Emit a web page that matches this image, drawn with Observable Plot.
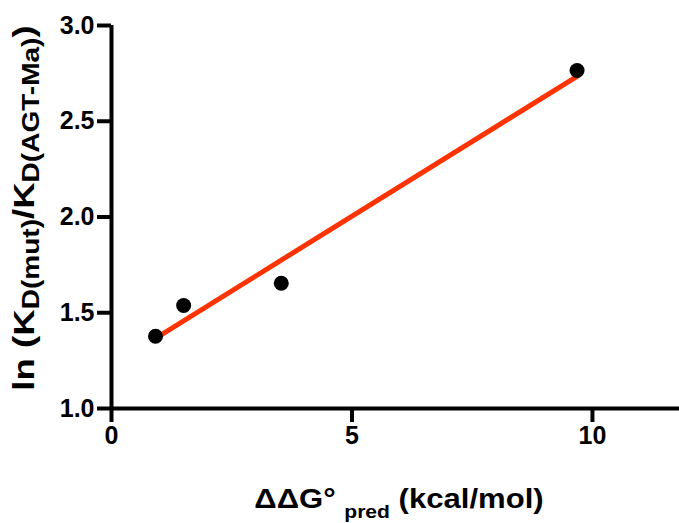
<!DOCTYPE html>
<html>
<head>
<meta charset="utf-8">
<script src="https://cdn.jsdelivr.net/npm/d3@7"></script>
<script src="https://cdn.jsdelivr.net/npm/@observablehq/plot@0.6"></script>
<style>
  html, body { margin: 0; padding: 0; background: white; }
</style>
</head>
<body>
<div id="chart"></div>
<script>
// Data
const dgPred = [0.915, 1.50, 3.53, 9.68];          // ΔΔG° pred (kcal/mol)
const lnRatio = [1.377, 1.538, 1.654, 2.765];      // ln(KD(mut)/KD(AGT-Ma))
const xTicks = [0, 5, 10];
const yTicks = [1.0, 1.5, 2.0, 2.5, 3.0];

const data = dgPred.map((x, i) => ({x, y: lnRatio[i]}));

const W = 679, H = 523;
const mL = 111, mT = 25, mR = 0, mB = 115;
const FONT = "'Liberation Sans', Arial, sans-serif";

const chart = Plot.plot({
  width: W,
  height: H,
  marginLeft: mL,
  marginTop: mT,
  marginRight: mR,
  marginBottom: mB,
  style: {
    fontFamily: FONT,
    fontWeight: "bold",
    fontSize: "25px",
    color: "black",
    background: "white",
    overflow: "visible"
  },
  x: {domain: [0, 11.81], label: null},
  y: {domain: [1, 3], label: null},
  marks: [
    Plot.axisX({ticks: xTicks, tickSize: 14, strokeWidth: 4, tickPadding: 4, label: null}),
    Plot.axisY({ticks: yTicks, tickSize: 14, strokeWidth: 4, tickPadding: 3, tickFormat: d3.format(".1f"), label: null}),
    Plot.ruleX([0], {strokeWidth: 4}),
    Plot.ruleY([1], {strokeWidth: 4}),
    Plot.linearRegressionY(data, {x: "x", y: "y", stroke: "#ff3300", strokeWidth: 5, ci: 0}),
    Plot.dot(data, {x: "x", y: "y", r: 7.5, fill: "black", stroke: "none"})
  ]
});

document.getElementById("chart").appendChild(chart);
const svg = d3.select(chart);

// X axis title with subscript (slightly widened like the reference's glyphs)
const xt = svg.append("g")
  .attr("transform", "translate(399,508) scale(1.11,1)")
  .append("text")
  .attr("text-anchor", "middle")
  .style("font-size", "28px").style("font-weight", "bold")
  .style("font-family", FONT);
xt.append("tspan").text("ΔΔG° ");
xt.append("tspan").style("font-size", "19px").attr("dy", 10).text("pred");
xt.append("tspan").attr("dy", -10).text(" (kcal/mol)");

// Y axis title with subscripts (rotated)
const yt = svg.append("g")
  .attr("transform", "translate(34,208) rotate(-90) scale(1.22,1)")
  .append("text")
  .attr("text-anchor", "middle")
  .style("font-size", "30px").style("font-weight", "bold")
  .style("font-family", FONT);
yt.append("tspan").text("ln (K");
yt.append("tspan").style("font-size", "23px").attr("dy", 5).text("D(mut)");
yt.append("tspan").attr("dy", -5).text("/K");
yt.append("tspan").style("font-size", "23px").attr("dy", 5).text("D(AGT-Ma)");
yt.append("tspan").attr("dy", -5).text(")");
</script>
</body>
</html>
